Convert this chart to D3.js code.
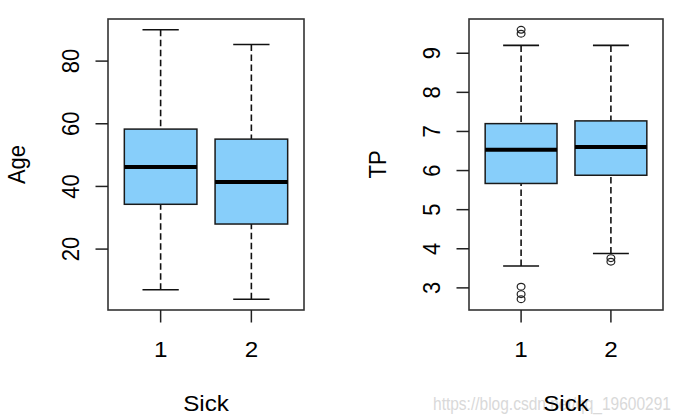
<!DOCTYPE html>
<html>
<head>
<meta charset="utf-8">
<script src="https://cdn.jsdelivr.net/npm/d3@7"></script>
<style>
  html, body { margin: 0; padding: 0; background: #fff; }
  svg { display: block; }
  text { font-family: "Liberation Sans", Arial, sans-serif; fill: #000; }
</style>
</head>
<body>
<svg id="chart" width="683" height="420"></svg>
<script>
// ---- data ----
const groups = ["1", "2"];

const ageMin    = [7, 4];
const ageQ1     = [34.3, 28];
const ageMedian = [46.2, 41.4];
const ageQ3     = [58.3, 55.1];
const ageMax    = [90, 85.3];
const ageOutliers = [[], []];
const ageTicks  = [20, 40, 60, 80];

const tpMin    = [3.56, 3.88];
const tpQ1     = [5.67, 5.88];
const tpMedian = [6.53, 6.6];
const tpQ3     = [7.2, 7.27];
const tpMax    = [9.2, 9.2];
const tpOutliers = [[9.6, 9.5, 3.03, 2.84, 2.71], [3.76, 3.67]];
const tpTicks  = [3, 4, 5, 6, 7, 8, 9];

const xLabel = "Sick";
const watermark = "https://blog.csdn.net/qq_19600291";

// ---- drawing ----
const svg = d3.select("#chart");
const SX = 1.1; // horizontal stretch of the reference picture
const FONT = 22;

function stretchedText(g, x, y, str, opts) {
  const t = g.append("text")
    .attr("transform", `translate(${x},${y}) scale(${SX},1)` + (opts.rotate ? " rotate(-90)" : ""))
    .attr("text-anchor", opts.anchor || "middle")
    .attr("font-size", opts.size || FONT)
    .text(str);
  return t;
}

function panel(cfg) {
  const g = svg.append("g");
  const n = groups.length;
  const lo = d3.min([...cfg.min, ...cfg.out.flat()]);
  const hi = d3.max([...cfg.max, ...cfg.out.flat()]);
  const ext = (hi - lo) * 0.04;
  const y = d3.scaleLinear().domain([lo - ext, hi + ext]).range([cfg.bottom, cfg.top]);
  const xext = n * 0.04;
  const x = d3.scaleLinear().domain([0.5 - xext, n + 0.5 + xext]).range([cfg.left, cfg.right]);
  const bw = 0.8, cw = 0.4;

  groups.forEach((gname, i) => {
    const c = i + 1;
    // whiskers (dashed), drawn from cap toward box
    g.append("line").attr("x1", x(c)).attr("x2", x(c))
      .attr("y1", y(cfg.max[i])).attr("y2", y(cfg.q3[i]))
      .attr("stroke", "#111").attr("stroke-width", 1.6).attr("stroke-dasharray", "6.5,3.5");
    g.append("line").attr("x1", x(c)).attr("x2", x(c))
      .attr("y1", y(cfg.min[i])).attr("y2", y(cfg.q1[i]))
      .attr("stroke", "#111").attr("stroke-width", 1.6).attr("stroke-dasharray", "6.5,3.5");
    // caps
    [cfg.max[i], cfg.min[i]].forEach(v => {
      g.append("line").attr("x1", x(c - cw / 2)).attr("x2", x(c + cw / 2))
        .attr("y1", y(v)).attr("y2", y(v))
        .attr("stroke", "#111").attr("stroke-width", 1.6);
    });
    // box
    g.append("rect")
      .attr("x", x(c - bw / 2)).attr("width", x(c + bw / 2) - x(c - bw / 2))
      .attr("y", y(cfg.q3[i])).attr("height", y(cfg.q1[i]) - y(cfg.q3[i]))
      .attr("fill", "#87CEFA").attr("stroke", "#1a1a1a").attr("stroke-width", 1.5);
    // median
    g.append("line").attr("x1", x(c - bw / 2)).attr("x2", x(c + bw / 2))
      .attr("y1", y(cfg.med[i])).attr("y2", y(cfg.med[i]))
      .attr("stroke", "#000").attr("stroke-width", 4);
    // outliers
    cfg.out[i].forEach(v => {
      g.append("ellipse").attr("cx", x(c)).attr("cy", y(v))
        .attr("rx", 3.9).attr("ry", 3.4)
        .attr("fill", "none").attr("stroke", "#222").attr("stroke-width", 1.2);
    });
  });

  // frame
  g.append("rect").attr("x", cfg.left).attr("y", cfg.top)
    .attr("width", cfg.right - cfg.left).attr("height", cfg.bottom - cfg.top)
    .attr("fill", "none").attr("stroke", "#333").attr("stroke-width", 1.6);

  // y axis ticks
  cfg.ticks.forEach(t => {
    g.append("line").attr("x1", cfg.left - 12.5).attr("x2", cfg.left)
      .attr("y1", y(t)).attr("y2", y(t)).attr("stroke", "#222").attr("stroke-width", 1.5);
    stretchedText(g, cfg.left - 29.5, y(t), String(t), { rotate: true });
  });
  // x axis ticks
  groups.forEach((gname, i) => {
    const c = i + 1;
    g.append("line").attr("x1", x(c)).attr("x2", x(c))
      .attr("y1", cfg.bottom).attr("y2", cfg.bottom + 12.5)
      .attr("stroke", "#222").attr("stroke-width", 1.5);
    stretchedText(g, x(c), 357, gname, {});
  });

  // axis titles
  stretchedText(g, cfg.left - 83, (cfg.top + cfg.bottom) / 2, cfg.ylab, { rotate: true });
  return g;
}

panel({ left: 108, right: 304, top: 19, bottom: 310,
        min: ageMin, q1: ageQ1, med: ageMedian, q3: ageQ3, max: ageMax,
        out: ageOutliers, ticks: ageTicks, ylab: "Age" });
panel({ left: 469, right: 663, top: 19, bottom: 310,
        min: tpMin, q1: tpQ1, med: tpMedian, q3: tpQ3, max: tpMax,
        out: tpOutliers, ticks: tpTicks, ylab: "TP" });

// watermark
svg.append("text").attr("x", 433).attr("y", 410)
  .attr("font-size", 18).attr("textLength", 238).attr("lengthAdjust", "spacingAndGlyphs")
  .style("fill", "#d9d9d9").text(watermark);

// x titles
stretchedText(svg, 206, 411, xLabel, {});
stretchedText(svg, 566, 411, xLabel, {});
</script>
</body>
</html>
